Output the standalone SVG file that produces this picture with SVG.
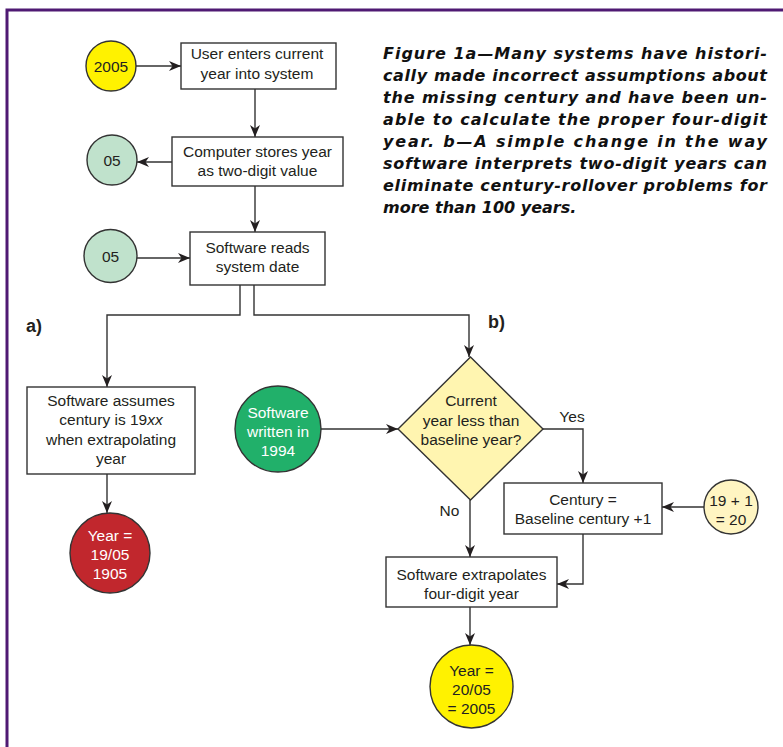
<svg xmlns="http://www.w3.org/2000/svg" width="783" height="747" viewBox="0 0 783 747">
  <style>
    .box { fill: #ffffff; stroke: #333333; stroke-width: 1.4; }
    .node { stroke: #333333; stroke-width: 1.4; }
    .t { font-family: "Liberation Sans", Arial, sans-serif; font-size: 15.5px; fill: #231f20; text-anchor: middle; }
    .tw { fill: #ffffff; }
    .lbl { font-family: "Liberation Sans", Arial, sans-serif; font-size: 15.5px; fill: #231f20; text-anchor: middle; }
    .part { font-family: "Liberation Sans", Arial, sans-serif; font-size: 18px; font-weight: bold; fill: #231f20; }
    .cap { font-family: "DejaVu Sans", "Liberation Sans", sans-serif; font-size: 16px; font-weight: bold; font-style: italic; fill: #111111; }
    .conn { fill: none; stroke: #333333; stroke-width: 1.4; }
  </style>
  <defs>
    <marker id="arrow" viewBox="0 0 12 10" refX="12" refY="5" markerWidth="12" markerHeight="10" markerUnits="userSpaceOnUse" orient="auto">
      <path d="M0,0 L12,5 L0,10 L3.5,5 z" fill="#231f20"/>
    </marker>
  </defs>

  <!-- frame -->
  <path d="M7,747 V10 H783" fill="none" stroke="#4f1a73" stroke-width="3"/>

  <!-- caption, justified lines -->
  <g id="caption" class="cap">
    <text x="383" y="59" textLength="384" lengthAdjust="spacing">Figure 1a—Many systems have histori-</text>
    <text x="383" y="81" textLength="384" lengthAdjust="spacing">cally made incorrect assumptions about</text>
    <text x="383" y="103" textLength="384" lengthAdjust="spacing">the missing century and have been un-</text>
    <text x="383" y="125" textLength="384" lengthAdjust="spacing">able to calculate the proper four-digit</text>
    <text x="383" y="147" textLength="384" lengthAdjust="spacing">year. b—A simple change in the way</text>
    <text x="383" y="169" textLength="384" lengthAdjust="spacing">software interprets two-digit years can</text>
    <text x="383" y="191" textLength="384" lengthAdjust="spacing">eliminate century-rollover problems for</text>
    <text x="383" y="213">more than 100 years.</text>
  </g>

  <!-- part labels -->
  <text class="part" x="26" y="332">a)</text>
  <text class="part" x="488" y="328">b)</text>

  <!-- connectors -->
  <g id="connectors" class="conn" marker-end="url(#arrow)">
    <path d="M136,66 H181"/>
    <path d="M255,89 V137"/>
    <path d="M172,162 H137"/>
    <path d="M255,186 V232"/>
    <path d="M137,258 H190"/>
    <path d="M240,285 V315 H107 V387"/>
    <path d="M254,285 V315 H469 V357"/>
    <path d="M107,474 V513"/>
    <path d="M321,429 H398"/>
    <path d="M543,429 H583 V483"/>
    <path d="M470,500 V557"/>
    <path d="M705,507 H662"/>
    <path d="M583,534 V584 H557"/>
    <path d="M470,607 V645"/>
  </g>

  <!-- branch labels -->
  <text class="lbl" x="572" y="421.5">Yes</text>
  <text class="lbl" x="449.5" y="515.5">No</text>

  <!-- nodes -->
  <g id="n-2005">
    <circle class="node" cx="111" cy="66" r="25" fill="#fff200"/>
    <text class="t" x="111" y="71.5">2005</text>
  </g>
  <g id="n-user-enters">
    <rect class="box" x="181" y="43" width="155" height="46"/>
    <text class="t" x="257" y="58.5">User enters current</text>
    <text class="t" x="257" y="78.5">year into system</text>
  </g>
  <g id="n-stores">
    <rect class="box" x="172" y="137" width="171" height="49"/>
    <text class="t" x="257.5" y="156.5">Computer stores year</text>
    <text class="t" x="257.5" y="175.5">as two-digit value</text>
  </g>
  <g id="n-05-stored">
    <circle class="node" cx="112" cy="160" r="25" fill="#c0e2cc"/>
    <text class="t" x="112" y="165.5">05</text>
  </g>
  <g id="n-05-read">
    <circle class="node" cx="110.5" cy="256" r="26.5" fill="#c0e2cc"/>
    <text class="t" x="110.5" y="261.5">05</text>
  </g>
  <g id="n-reads">
    <rect class="box" x="190" y="232" width="135" height="53"/>
    <text class="t" x="257.5" y="252.5">Software reads</text>
    <text class="t" x="257.5" y="271.5">system date</text>
  </g>
  <g id="n-assumes">
    <rect class="box" x="27" y="387" width="168" height="87"/>
    <text class="t" x="111" y="405.5">Software assumes</text>
    <text class="t" x="111" y="424.5">century is 19<tspan font-style="italic">xx</tspan></text>
    <text class="t" x="111" y="444.5">when extrapolating</text>
    <text class="t" x="111" y="463.5">year</text>
  </g>
  <g id="n-1905">
    <circle class="node" cx="110" cy="553" r="40" fill="#c1272d"/>
    <text class="t tw" x="110" y="540.5">Year =</text>
    <text class="t tw" x="110" y="559.5">19/05</text>
    <text class="t tw" x="110" y="578.5">1905</text>
  </g>
  <g id="n-written">
    <circle class="node" cx="278" cy="429" r="43" fill="#21b06a"/>
    <text class="t tw" x="278" y="417.5">Software</text>
    <text class="t tw" x="278" y="436.5">written in</text>
    <text class="t tw" x="278" y="455.5">1994</text>
  </g>
  <g id="n-decision">
    <path class="node" d="M470.5,357 L543,429 L470.5,500 L398,429 Z" fill="#fff5b0"/>
    <text class="t" x="471" y="405.5">Current</text>
    <text class="t" x="471" y="425.5">year less than</text>
    <text class="t" x="471" y="444.5">baseline year?</text>
  </g>
  <g id="n-century">
    <rect class="box" x="504" y="483" width="158" height="51"/>
    <text class="t" x="583" y="504.5">Century =</text>
    <text class="t" x="583" y="523.5">Baseline century +1</text>
  </g>
  <g id="n-19plus1">
    <circle class="node" cx="731" cy="507" r="27" fill="#fff5c2"/>
    <text class="t" x="731" y="505.5">19 + 1</text>
    <text class="t" x="731" y="524.5">= 20</text>
  </g>
  <g id="n-extrapolates">
    <rect class="box" x="386" y="557" width="171" height="50"/>
    <text class="t" x="471.5" y="579.5">Software extrapolates</text>
    <text class="t" x="471.5" y="598.5">four-digit year</text>
  </g>
  <g id="n-2005-result">
    <circle class="node" cx="471.5" cy="686.5" r="41.5" fill="#fff200"/>
    <text class="t" x="471.5" y="675.5">Year =</text>
    <text class="t" x="471.5" y="694.5">20/05</text>
    <text class="t" x="471.5" y="713.5">= 2005</text>
  </g>
</svg>
